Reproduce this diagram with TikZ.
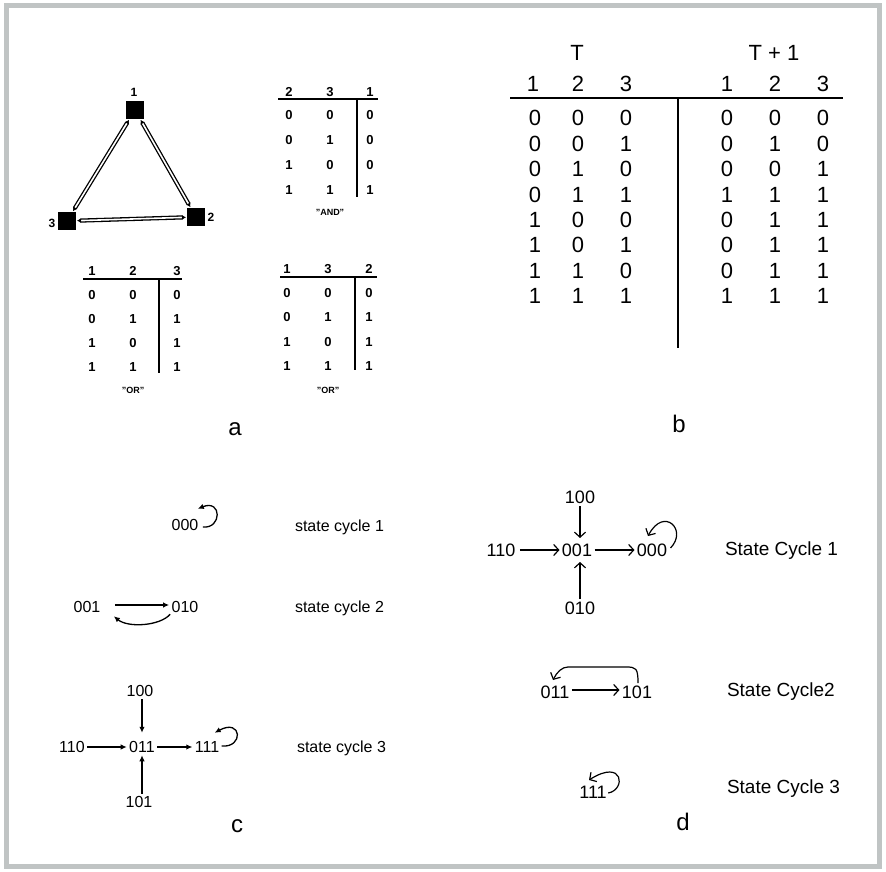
\documentclass[tikz,border=0pt]{standalone}
\usepackage{fontspec}
\setmainfont{Liberation Sans}
\usetikzlibrary{arrows.meta,calc}
\definecolor{framegray}{RGB}{192,196,196}
\begin{document}
\begin{tikzpicture}[x=1pt,y=-1pt,
  every node/.style={inner sep=0pt,outer sep=0pt},
  numc/.style={inner sep=2.5pt,text height=11.5pt,text depth=0pt,font=\fontsize{16}{16}\selectfont},
  numd/.style={inner sep=2.5pt,text height=13pt,text depth=0pt,font=\fontsize{18}{18}\selectfont},
  tabd/.style={text height=9.4pt,text depth=0pt,font=\fontsize{13}{13}\selectfont\bfseries},
  tabb/.style={text height=15.8pt,text depth=0pt,font=\fontsize{22}{22}\selectfont},
  qlab/.style={text height=6.5pt,text depth=0pt,font=\fontsize{9}{9}\selectfont\bfseries},
  nlab/.style={text height=8.6pt,text depth=0pt,font=\fontsize{12}{12}\selectfont\bfseries},
  biglet/.style={anchor=base,font=\fontsize{24}{24}\selectfont},
  cyc/.style={anchor=base west,font=\fontsize{16}{16}\selectfont},
  Cyc/.style={anchor=base west,font=\fontsize{19}{19}\selectfont},
  rulea/.style={line width=1.6pt},
  ruleb/.style={line width=2.4pt},
  sqnode/.style={fill=black,minimum size=18pt},
  dbl/.style={draw=black,line width=1.3pt,double=white,double distance=1.6pt,
     {Latex[length=4pt,width=5pt]}-{Latex[length=4pt,width=5pt]},shorten <=1pt,shorten >=1pt},
  arrc/.style={line width=1.3pt,-{Latex[length=6pt,width=5.5pt]}},
  arrd/.style={line width=1.2pt,-{Straight Barb[length=5pt,width=11pt]}}
]
\useasboundingbox (0,0) rectangle (886,872);
\draw[line width=5.5pt,draw=framegray] (6.5,5.5) rectangle (879.5,866.5);

% ---------- a : network ----------
\node[sqnode] (s1) at (135,110) {};
\node[sqnode] (s2) at (196,217) {};
\node[sqnode] (s3) at (67,221) {};
\node[nlab] (l1) at (134,92) {1};
\node[nlab] (l2) at (211,217) {2};
\node[nlab] (l3) at (52,223) {3};
\draw[dbl] (s1) -- (s3);
\draw[dbl] (s1) -- (s2);
\draw[dbl] (s3) -- (s2);

% AND table
\node[tabd] (ah1) at (289,92) {2};
\node[tabd] (ah2) at (330,92) {3};
\node[tabd] (ah3) at (370,92) {1};
\draw[rulea] (278,99) -- (378,99);
\draw[rulea] (357,99) -- (357,197);
\foreach \a/\b/\c [count=\i] in {0/0/0,0/1/0,1/0/0,1/1/1}{
  \node[tabd] (and\i a) at (289,{90+25*\i}) {\a};
  \node[tabd] (and\i b) at (330,{90+25*\i}) {\b};
  \node[tabd] (and\i c) at (370,{90+25*\i}) {\c};
}
\node[qlab] (andlab) at (330,212) {"AND"};

% OR table 1
\node[tabd] (oh1) at (92,271) {1};
\node[tabd] (oh2) at (133,271) {2};
\node[tabd] (oh3) at (177,271) {3};
\draw[rulea] (83,279) -- (182,279);
\draw[rulea] (159,279) -- (159,373);
\foreach \a/\b/\c [count=\i] in {0/0/0,0/1/1,1/0/1,1/1/1}{
  \node[tabd] (or\i a) at (92,{271+24*\i}) {\a};
  \node[tabd] (or\i b) at (133,{271+24*\i}) {\b};
  \node[tabd] (or\i c) at (177,{271+24*\i}) {\c};
}
\node[qlab] (orlab) at (133,390) {"OR"};

% OR table 2
\node[tabd] (ph1) at (287,269) {1};
\node[tabd] (ph2) at (328,269) {3};
\node[tabd] (ph3) at (369,269) {2};
\draw[rulea] (280,277) -- (377,277);
\draw[rulea] (355,277) -- (355,370);
\foreach \a/\b/\c [count=\i] in {0/0/0,0/1/1,1/0/1,1/1/1}{
  \node[tabd] (pr\i a) at (287,{268+24.5*\i}) {\a};
  \node[tabd] (pr\i b) at (328,{268+24.5*\i}) {\b};
  \node[tabd] (pr\i c) at (369,{268+24.5*\i}) {\c};
}
\node[qlab] (prlab) at (328,390) {"OR"};

\node[biglet] (la) at (235,435) {a};

% ---------- b : state table ----------
\node[tabb] (T) at (577,53) {T};
\node[tabb] (T1) at (774,53) {T + 1};
\foreach \t/\x [count=\i] in {1/533,2/578,3/626,1/727,2/775,3/823}{
  \node[tabb] (bh\i) at (\x,83.5) {\t};
}
\draw[ruleb] (510,98) -- (843,98);
\draw[ruleb] (678,98) -- (678,348);
\foreach \a/\b/\c/\d/\e/\f [count=\i] in
  {0/0/0/0/0/0,0/0/1/0/1/0,0/1/0/0/0/1,0/1/1/1/1/1,1/0/0/0/1/1,1/0/1/0/1/1,1/1/0/0/1/1,1/1/1/1/1/1}{
  \node[tabb] (b\i a) at (535,{92.6+25.4*\i}) {\a};
  \node[tabb] (b\i b) at (578,{92.6+25.4*\i}) {\b};
  \node[tabb] (b\i c) at (626,{92.6+25.4*\i}) {\c};
  \node[tabb] (b\i d) at (727,{92.6+25.4*\i}) {\d};
  \node[tabb] (b\i e) at (775,{92.6+25.4*\i}) {\e};
  \node[tabb] (b\i f) at (823,{92.6+25.4*\i}) {\f};
}
\node[biglet] (lb) at (679,432) {b};

% ---------- c ----------
\node[numc] (c000) at (185,525) {000};
\draw[arrc] ($(c000.east)+(2,2)$) .. controls (222,529) and (222,499) .. ($(c000.north east)+(-3,-8)$);
\node[cyc] (sc1) at (295,531) {state cycle 1};

\node[numc] (c001) at (87,607) {001};
\node[numc] (c010) at (185,607) {010};
\draw[arrc,shorten <=12pt] ($(c001.east)+(0,-2)$) -- ($(c010.west)+(0,-2)$);
\draw[arrc] ($(c010.south west)+(1,-1)$) .. controls (160,626) and (128,628) .. ($(c001.south east)+(11,1)$);
\node[cyc] (sc2) at (295,612) {state cycle 2};

\node[numc] (c100) at (140,691) {100};
\node[numc] (c011) at (142,747) {011};
\node[numc] (c110) at (72,747) {110};
\node[numc] (c111) at (207,747) {111};
\node[numc] (c101) at (139,802) {101};
\draw[arrc,shorten >=6pt] (c100.south -| c011) -- (c011.north);
\draw[arrc] (c101.north -| c011) -- (c011.south);
\draw[arrc] (c110) -- (c011);
\draw[arrc] (c011) -- (c111);
\draw[arrc] ($(c111.east)+(0,-1)$) .. controls (244,748) and (242,718) .. ($(c111.north east)+(-7,-6)$);
\node[cyc] (sc3) at (297,752) {state cycle 3};
\node[biglet] (lc) at (237,832) {c};

% ---------- d ----------
\node[numd] (d100) at (580,497) {100};
\node[numd] (d001) at (577,550) {001};
\node[numd] (d110) at (501,550) {110};
\node[numd] (d000) at (652,550) {000};
\node[numd] (d010) at (580,608) {010};
\draw[arrd,shorten >=3pt] (d100.south) -- (d100.south |- d001.north);
\draw[arrd,shorten >=3pt] (d010.north) -- (d010.north |- d001.south);
\draw[arrd,shorten <=2pt] (d110) -- (d001);
\draw[arrd] (d001) -- (d000);
\draw[arrd] ($(d000.east)+(1,-2)$) .. controls (688,530) and (664,506) .. ($(d000.north)+(-4,-5)$);
\node[Cyc] (SC1) at (725,555) {State Cycle 1};

\node[numd] (d011) at (555,692) {011};
\node[numd] (d101) at (637,692) {101};
\draw[arrd] ($(d011.east)+(0,-2)$) -- ($(d101.west)+(0,-2)$);
\draw[arrd] ($(d101.north)+(1,0)$) .. controls (638,668) and (636,667) .. (626,667) -- (568,667)
   .. controls (562,667) and (557,672) .. ($(d011.north)+(-2,-3)$);
\node[Cyc] (SC2) at (727,696) {State Cycle2};

\node[numd] (d111) at (593,792) {111};
\draw[arrd] ($(d111.east)+(-1,1)$) .. controls (626,790) and (624,758) .. ($(d111.north)+(-4,-3)$);
\node[Cyc] (SC3) at (727,793) {State Cycle 3};
\node[biglet] (ld) at (683,830) {d};
\end{tikzpicture}
\end{document}
